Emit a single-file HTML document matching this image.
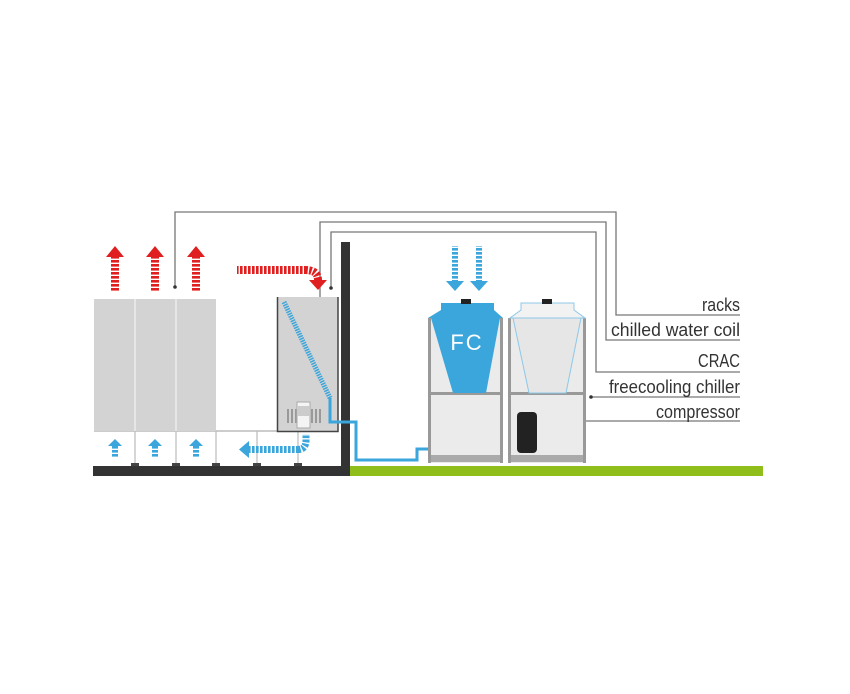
<!DOCTYPE html>
<html><head><style>
html,body{margin:0;padding:0;background:#fff;width:850px;height:694px;overflow:hidden}
text{font-family:"Liberation Sans Narrow","Liberation Sans",sans-serif;font-size:18px;fill:#333}
</style></head><body>
<svg width="850" height="694" viewBox="0 0 850 694" xmlns="http://www.w3.org/2000/svg">
<defs>
<pattern id="rd" width="4" height="4" patternUnits="userSpaceOnUse"><rect width="4" height="2.6" fill="#e02020"/></pattern>
<pattern id="rh" width="4" height="4" patternUnits="userSpaceOnUse"><rect width="2.6" height="4" fill="#e02020"/></pattern>
<pattern id="bd" width="4" height="4" patternUnits="userSpaceOnUse"><rect width="4" height="2.6" fill="#3aa6dc"/></pattern>
<pattern id="bh" width="4" height="4" patternUnits="userSpaceOnUse"><rect width="2.6" height="4" fill="#3aa6dc"/></pattern>
</defs>
<g fill="none" stroke="#777" stroke-width="1.3">
<polyline points="175,287 175,212 616,212 616,315 740,315"/>
<polyline points="320,350 320,222 606,222 606,340 740,340"/>
<polyline points="331,287 331,232 596,232 596,372 740,372"/>
<polyline points="591,397 740,397"/>
<polyline points="543,421 740,421"/>
</g>
<g fill="#333"><circle cx="175" cy="287" r="1.8"/><circle cx="320" cy="352" r="1.8"/><circle cx="331" cy="288" r="1.8"/><circle cx="591" cy="397" r="1.8"/><circle cx="543" cy="421" r="1.8"/></g>
<text x="740" y="311" text-anchor="end" textLength="38" lengthAdjust="spacingAndGlyphs">racks</text>
<text x="740" y="336" text-anchor="end" textLength="129" lengthAdjust="spacingAndGlyphs">chilled water coil</text>
<text x="740" y="367" text-anchor="end" textLength="42" lengthAdjust="spacingAndGlyphs">CRAC</text>
<text x="740" y="393" text-anchor="end" textLength="131" lengthAdjust="spacingAndGlyphs">freecooling chiller</text>
<text x="740" y="418" text-anchor="end" textLength="84" lengthAdjust="spacingAndGlyphs">compressor</text>
<rect x="93" y="466" width="257" height="10" fill="#333"/>
<rect x="341" y="242" width="9" height="234" fill="#333"/>
<rect x="350" y="466" width="413" height="10" fill="#8fbe1a"/>
<line x1="94" y1="431" x2="338" y2="431" stroke="#bbb" stroke-width="1.5"/>
<g stroke="#bbb" stroke-width="1.2">
<line x1="135" y1="431" x2="135" y2="464"/><line x1="176" y1="431" x2="176" y2="464"/><line x1="216" y1="431" x2="216" y2="464"/><line x1="257" y1="431" x2="257" y2="464"/><line x1="298" y1="431" x2="298" y2="464"/>
</g>
<g fill="#444"><rect x="131" y="463" width="8" height="3"/><rect x="172" y="463" width="8" height="3"/><rect x="212" y="463" width="8" height="3"/><rect x="253" y="463" width="8" height="3"/><rect x="294" y="463" width="8" height="3"/></g>
<rect x="94" y="299" width="122" height="132" fill="#d3d3d3"/>
<line x1="135" y1="299" x2="135" y2="431" stroke="#f2f2f2" stroke-width="1.2"/>
<line x1="176" y1="299" x2="176" y2="431" stroke="#f2f2f2" stroke-width="1.2"/>
<g>
<rect x="111" y="256" width="8" height="36" fill="url(#rd)"/><polygon points="106,257 115,246 124,257" fill="#e02020"/>
<rect x="151" y="256" width="8" height="36" fill="url(#rd)"/><polygon points="146,257 155,246 164,257" fill="#e02020"/>
<rect x="192" y="256" width="8" height="36" fill="url(#rd)"/><polygon points="187,257 196,246 205,257" fill="#e02020"/>
</g>
<rect x="237" y="266" width="68" height="8" fill="url(#rh)"/>
<path d="M305,270 Q318,270 318,280" fill="none" stroke="#e02020" stroke-width="8" stroke-dasharray="2.6 1.4"/>
<polygon points="309,280 327,280 318,290" fill="#e02020"/>
<g fill="#3aa6dc">
<polygon points="108,446 115,439 122,446"/><rect x="112" y="446" width="6" height="2.6"/><rect x="112" y="450" width="6" height="2.6"/><rect x="112" y="454" width="6" height="2.6"/>
<polygon points="148,446 155,439 162,446"/><rect x="152" y="446" width="6" height="2.6"/><rect x="152" y="450" width="6" height="2.6"/><rect x="152" y="454" width="6" height="2.6"/>
<polygon points="189,446 196,439 203,446"/><rect x="193" y="446" width="6" height="2.6"/><rect x="193" y="450" width="6" height="2.6"/><rect x="193" y="454" width="6" height="2.6"/>
</g>
<rect x="248" y="446" width="50" height="7" fill="url(#bh)"/>
<path d="M298,449.5 Q306,449.5 306,440 L306,434" fill="none" stroke="#3aa6dc" stroke-width="7" stroke-dasharray="2.6 1.4"/>
<polygon points="249,441 249,458 239,449.5" fill="#3aa6dc"/>
<rect x="277" y="297" width="61" height="135" fill="#d3d3d3"/>
<path d="M277.5,297 L277.5,431.5 L338,431.5 L338,297" fill="none" stroke="#444" stroke-width="1.5"/>
<line x1="284" y1="302" x2="330" y2="398" stroke="#3aa6dc" stroke-width="5" stroke-dasharray="1.5 1"/>
<g fill="#999"><rect x="287" y="409" width="2" height="14"/><rect x="291" y="409" width="2" height="14"/><rect x="295" y="409" width="2" height="14"/><rect x="311" y="409" width="2" height="14"/><rect x="315" y="409" width="2" height="14"/><rect x="319" y="409" width="2" height="14"/></g>
<rect x="297" y="402" width="13" height="26" fill="#f4f4f4" stroke="#aaa"/>
<rect x="297" y="406" width="13" height="10" fill="#ccc"/>
<polyline points="330,398 330,422 356,422 356,460 417,460 417,449 467,449 467,399" fill="none" stroke="#3aa6dc" stroke-width="3"/>
<rect x="428" y="318" width="75" height="145" fill="#ebebeb"/>
<rect x="428" y="318" width="3" height="145" fill="#999"/>
<rect x="500" y="318" width="3" height="145" fill="#999"/>
<rect x="428" y="392" width="75" height="3" fill="#999"/>
<rect x="431" y="455" width="69" height="7" fill="#aaa"/>
<polygon points="441,303 494,303 494,310 503,318 428,318 441,310" fill="#3aa6dc"/>
<polygon points="431,318 500,318 486,393 453,393" fill="#3aa6dc"/>
<rect x="461" y="299" width="10" height="5" fill="#222"/>
<text x="467" y="350" text-anchor="middle" style="font-size:22px;fill:#fff;font-family:'Liberation Sans',sans-serif;letter-spacing:2px">FC</text>
<rect x="508" y="318" width="78" height="145" fill="#ebebeb"/>
<rect x="508" y="318" width="3" height="145" fill="#999"/>
<rect x="583" y="318" width="3" height="145" fill="#999"/>
<rect x="510" y="392" width="76" height="3" fill="#999"/>
<rect x="511" y="455" width="72" height="7" fill="#aaa"/>
<polygon points="521,303 574,303 574,310 585,318 510,318 521,310" fill="#f2f2f2" stroke="#8cc8e8"/>
<polygon points="513,318 581,318 566,393 529,393" fill="#e6e6e6" stroke="#8cc8e8"/>
<rect x="542" y="299" width="10" height="5" fill="#222"/>
<rect x="517" y="412" width="20" height="41" rx="4" fill="#222"/>
<rect x="452" y="246" width="6" height="35" fill="url(#bd)"/><polygon points="446,281 455,291 464,281" fill="#3aa6dc"/>
<rect x="476" y="246" width="6" height="35" fill="url(#bd)"/><polygon points="470,281 479,291 488,281" fill="#3aa6dc"/>
</svg>
</body></html>
